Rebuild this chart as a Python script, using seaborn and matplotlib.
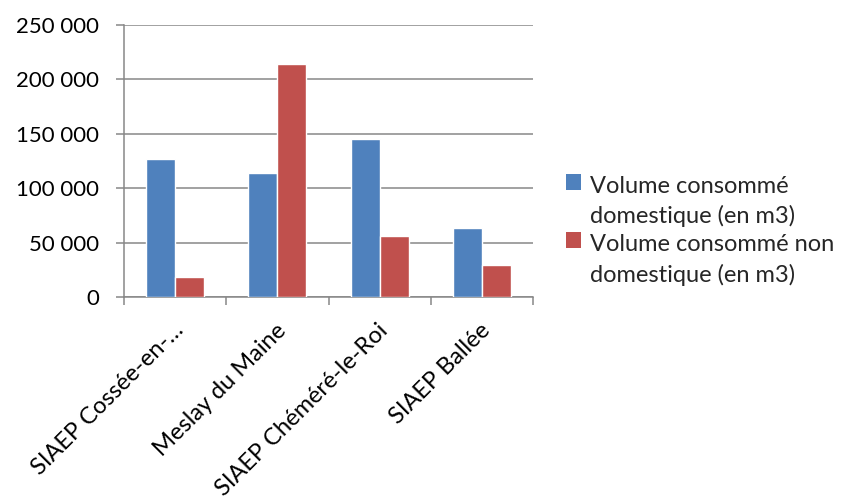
import matplotlib
matplotlib.use("Agg")
import matplotlib.pyplot as plt
import matplotlib.patches as mpatches
import matplotlib.transforms as mtransforms
from matplotlib.legend_handler import HandlerPatch
from matplotlib.ticker import FuncFormatter, FixedLocator
import seaborn as sns
import pandas as pd

# Consumption per water service, in m3
sites = ["SIAEP Cossée-en-…", "Meslay du Maine", "SIAEP Chéméré-le-Roi", "SIAEP Ballée"]
domestique = [127000, 114000, 145000, 63000]
non_domestique = [18000, 214000, 56000, 29000]
series_names = ["Volume consommé\ndomestique (en m3)", "Volume consommé non\ndomestique (en m3)"]
colors = ["#4F81BD", "#C0504D"]

df = pd.DataFrame({
    "site": sites * 2,
    "volume": domestique + non_domestique,
    "serie": [series_names[0]] * len(sites) + [series_names[1]] * len(sites),
})

sns.set_theme(style="white")
plt.rcParams["font.family"] = ["Lato", "DejaVu Sans"]

W, H = 852, 497
fig = plt.figure(figsize=(W / 100, H / 100), dpi=100)
ax = fig.add_axes([124 / W, 1 - 297 / H, 409 / W, 272 / H])

sns.barplot(data=df, x="site", y="volume", hue="serie", palette=colors,
            width=0.565, saturation=1, ax=ax, zorder=3, legend=False)

grid_c = "#878787"
ax.set_ylim(0, 250000)
ax.set_xlim(-0.5, len(sites) - 0.5)
ax.set_yticks([0, 50000, 100000, 150000, 200000, 250000])
ax.yaxis.set_major_formatter(FuncFormatter(lambda v, p: f"{int(v):,}".replace(",", " ")))
ax.grid(axis="y", color=grid_c, lw=1.1, zorder=0)
ax.set_axisbelow(True)
for s in ["top", "right"]:
    ax.spines[s].set_visible(False)
for s in ["left", "bottom"]:
    ax.spines[s].set_color(grid_c)
    ax.spines[s].set_linewidth(1.1)
ax.set_xlabel("")
ax.set_ylabel("")

ax.tick_params(axis="y", length=5.8, width=1.1, color=grid_c, direction="out",
               labelsize=16, labelcolor="black", pad=12, left=True)

# category separators as minor ticks on the x axis
ax.xaxis.set_minor_locator(FixedLocator([i - 0.5 for i in range(len(sites) + 1)]))
ax.tick_params(axis="x", which="minor", length=5.5, width=1.1, color=grid_c, direction="out", bottom=True)
ax.tick_params(axis="x", which="major", length=0, labelsize=17, labelcolor="black", pad=0)
offset = mtransforms.ScaledTranslation(0.05, -0.30, fig.dpi_scale_trans)
for lab in ax.get_xticklabels():
    lab.set_rotation(45)
    lab.set_rotation_mode("anchor")
    lab.set_ha("right")
    lab.set_va("center")
    lab.set_transform(lab.get_transform() + offset)


def top_square(legend, orig_handle, xdescent, ydescent, width, height, fontsize):
    # square aligned with the first line of a two-line label
    return mpatches.Rectangle((-xdescent, -ydescent + 0.85 * fontsize), width, height)


handles = [mpatches.Patch(facecolor=c, edgecolor="none") for c in colors]
leg = fig.legend(handles, series_names, loc="upper left",
                 bbox_to_anchor=(566 / W, 1 - 176 / H), frameon=False,
                 fontsize=17, handlelength=0.65, handleheight=0.65, handletextpad=0.35,
                 labelspacing=0.3, borderpad=0, borderaxespad=0,
                 handler_map={mpatches.Patch: HandlerPatch(patch_func=top_square)})
for t in leg.get_texts():
    t.set_linespacing(1.45)

fig.savefig("out.png", dpi=100, facecolor="white")
